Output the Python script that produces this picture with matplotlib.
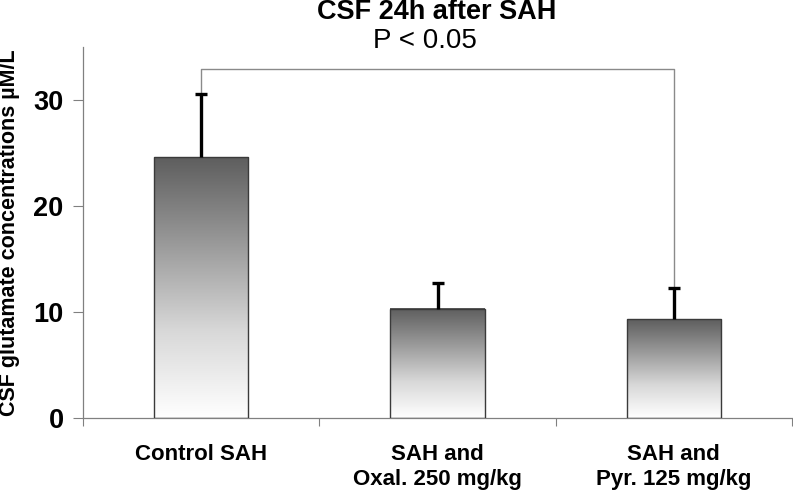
import numpy as np
import matplotlib
matplotlib.use("Agg")
import matplotlib.pyplot as plt
from matplotlib.colors import LinearSegmentedColormap

# data
groups = ["Control SAH", "SAH and\nOxal. 250 mg/kg", "SAH and\nPyr. 125 mg/kg"]
means = [24.6, 10.3, 9.3]
errs = [6.0, 2.4, 3.0]
bracket_y = 32.9
p_text = "P < 0.05"

plt.rcParams['font.family'] = ['Liberation Sans', 'DejaVu Sans']

fig = plt.figure(figsize=(7.93, 4.90), dpi=100)
ax = fig.add_axes([83/793, 1 - 418/490, 709/793, 371/490])

x = np.arange(len(groups))
width = 0.40
cmap = LinearSegmentedColormap.from_list("g", ["#ffffff", "#d8d8d8", "#9a9a9a", "#5e5e5e"])
grad = np.linspace(0, 1, 256).reshape(-1, 1)

for xi, m in zip(x, means):
    ax.imshow(grad, extent=[xi - width/2, xi + width/2, 0, m], origin='lower',
              cmap=cmap, aspect='auto', zorder=2, interpolation='bilinear')
ax.bar(x, means, width=width, fill=False, edgecolor='#3a3a3a', linewidth=1.0, zorder=3)
eb = ax.errorbar(x, means, yerr=[np.zeros(len(errs)), errs], fmt='none', ecolor='black',
                 elinewidth=2.4, capsize=4, capthick=2.4, zorder=4)
# only the upper caps are wanted
for cl in eb[1]:
    if np.allclose(cl.get_ydata(), means):
        cl.set_visible(False)

# significance bracket between first and last group
ax.plot([x[0], x[0], x[2], x[2]],
        [means[0] + errs[0], bracket_y, bracket_y, means[2] + errs[2]],
        color='#8a8a8a', linewidth=1.0, zorder=1)

ax.set_xlim(-0.5, 2.5)
ax.set_ylim(0, 35)
ax.set_yticks([0, 10, 20, 30])
ax.tick_params(axis='y', direction='out', length=7, width=0.8, color='#808080',
               labelsize=19.5, pad=7)
for t in ax.get_yticklabels():
    t.set_fontweight('bold')

ax.set_xticks(x)
ax.set_xticklabels(groups, fontsize=16, fontweight='bold', va='top', linespacing=1.2)
ax.tick_params(axis='x', length=0, pad=19)
ax.set_xticks([-0.5, 0.5, 1.5, 2.5], minor=True)
ax.tick_params(axis='x', which='minor', direction='out', length=6, width=0.8, color='#808080')

for s in ['top', 'right']:
    ax.spines[s].set_visible(False)
for s in ['left', 'bottom']:
    ax.spines[s].set_color('#808080')
    ax.spines[s].set_linewidth(0.9)

ax.set_ylabel("CSF glutamate concentrations µM/L", fontsize=15.5, fontweight='bold')
ax.yaxis.set_label_coords(-63/709, 0.5)

fig.text(437/793, 1 - 12/490, "CSF 24h after SAH", ha='center', va='center',
         fontsize=19.5, fontweight='bold')
fig.text(425/793, 1 - 41/490, p_text, ha='center', va='center', fontsize=20)

fig.savefig("out.png", dpi=100)
